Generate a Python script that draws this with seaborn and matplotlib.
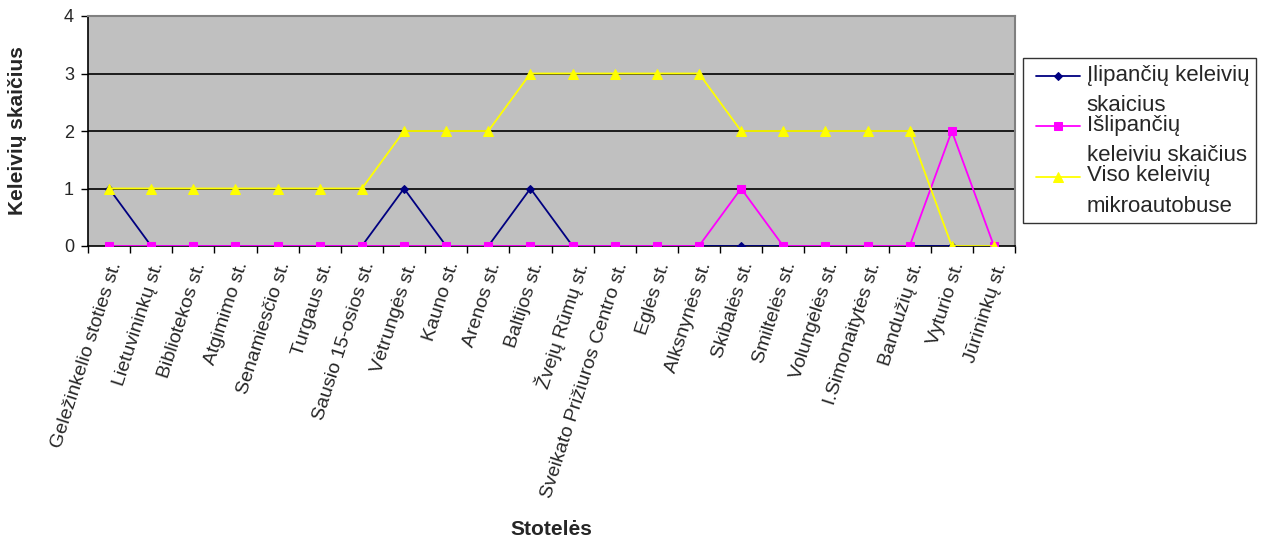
import matplotlib
matplotlib.use("Agg")
import matplotlib.pyplot as plt
from matplotlib.legend_handler import HandlerLine2D
import seaborn as sns
import pandas as pd
import numpy as np

stops = ["Geležinkelio stoties st.", "Lietuvininkų st.", "Bibliotekos st.", "Atgimimo st.",
         "Senamiesčio st.", "Turgaus st.", "Sausio 15-osios st.", "Vėtrungės st.", "Kauno st.",
         "Arenos st.", "Baltijos st.", "Žvejų Rūmų st.", "Sveikato Prižiuros Centro st.",
         "Eglės st.", "Alksnynės st.", "Skibalės st.", "Smiltelės st.", "Volungėlės st.",
         "I.Simonaitytės st.", "Bandužių st.", "Vyturio st.", "Jūrininkų st."]
ilipanciu = [1, 0, 0, 0, 0, 0, 0, 1, 0, 0, 1, 0, 0, 0, 0, 0, 0, 0, 0, 0, 0, 0]
islipanciu = [0, 0, 0, 0, 0, 0, 0, 0, 0, 0, 0, 0, 0, 0, 0, 1, 0, 0, 0, 0, 2, 0]
viso = [1, 1, 1, 1, 1, 1, 1, 2, 2, 2, 3, 3, 3, 3, 3, 2, 2, 2, 2, 2, 0, 0]
series_labels = ["Įlipančių keleivių\nskaicius", "Išlipančių\nkeleiviu skaičius",
                 "Viso keleivių\nmikroautobuse"]
yticks = [0, 1, 2, 3, 4]

sns.set_theme(style="white")
plt.rcParams['font.family'] = ['Liberation Sans', 'DejaVu Sans']


class FirstLineHandler(HandlerLine2D):
    """Line handle aligned with the first line of a two-line label, inset on the left."""
    def __init__(self, dy=10.5, xshift=4.3, **kw):
        super().__init__(**kw)
        self.dy = dy
        self.xshift = xshift

    def create_artists(self, legend, orig_handle, xdescent, ydescent, width, height, fontsize, trans):
        arts = super().create_artists(legend, orig_handle, xdescent, ydescent, width, height,
                                      fontsize, trans)
        x0 = -xdescent + self.xshift
        x1 = -xdescent + width
        for a in arts:
            xd = np.asarray(a.get_xdata(), dtype=float)
            yd = np.asarray(a.get_ydata(), dtype=float) + self.dy
            if len(xd) == 1:
                xd = np.array([(x0 + x1) / 2])
            else:
                xd = np.linspace(x0, x1, len(xd))
            a.set_data(xd, yd)
        return arts


fig = plt.figure(figsize=(12.7, 5.43), dpi=100)
ax = fig.add_axes([88/1270, 1-246/543, (1015-88)/1270, (246-16)/543])
ax.set_facecolor("#C0C0C0")

x = np.arange(len(stops))
styles = [(ilipanciu, "#000080", "D", 4.5), (islipanciu, "#FF00FF", "s", 5.5), (viso, "#FFFF00", "^", 7)]
handles = []
for (vals, col, mk, ms), lab in zip(styles, series_labels):
    df = pd.DataFrame({"x": x, "y": vals})
    sns.lineplot(data=df, x="x", y="y", ax=ax, color=col, marker=mk, markersize=ms,
                 markeredgecolor=col, linewidth=1.3, zorder=3, legend=False)
    handles.append(ax.lines[-1])

ax.set_xlim(-0.5, len(stops) - 0.5)
ax.set_ylim(0, 4)
ax.set_yticks(yticks)
ax.set_yticklabels([str(v) for v in yticks], fontsize=13)
for yv in [1, 2, 3]:
    ax.axhline(yv, color="black", linewidth=1.2, zorder=1)

ax.set_xticks(x)
ax.set_xticklabels(stops, rotation=72, ha="right", rotation_mode="anchor", fontsize=14)
ax.set_xticks(np.arange(-0.5, len(stops)), minor=True)
ax.tick_params(axis="x", which="major", length=0, pad=10)
ax.tick_params(axis="x", which="minor", length=5, width=1, color="black", direction="out", bottom=True)
ax.tick_params(axis="y", length=5, width=1, color="black", direction="out", left=True, pad=5)

for s in ["left", "bottom"]:
    ax.spines[s].set_color("black")
    ax.spines[s].set_linewidth(1.2)
for s in ["top", "right"]:
    ax.spines[s].set_color("#808080")
    ax.spines[s].set_linewidth(1.5)

ax.set_xlabel("Stotelės", fontsize=15, fontweight="bold")
ax.set_ylabel("Keleivių skaičius", fontsize=15, fontweight="bold")
ax.xaxis.set_label_coords(0.5, -1.19)
ax.yaxis.set_label_coords(-0.066, 0.5)

hmap = {h: FirstLineHandler() for h in handles}
leg = ax.legend(handles, series_labels, loc="upper left", bbox_to_anchor=(1023/1270, 1-58/543),
                bbox_transform=fig.transFigure, fontsize=16, frameon=True, fancybox=False,
                borderpad=0.3, labelspacing=-0.04, handlelength=2.25, handletextpad=0.31,
                borderaxespad=0, handler_map=hmap)
leg.get_frame().set_edgecolor("black")
leg.get_frame().set_linewidth(1.0)
for t in leg.get_texts():
    t.set_linespacing(1.58)

fig.savefig("out.png", dpi=100, facecolor="white")
